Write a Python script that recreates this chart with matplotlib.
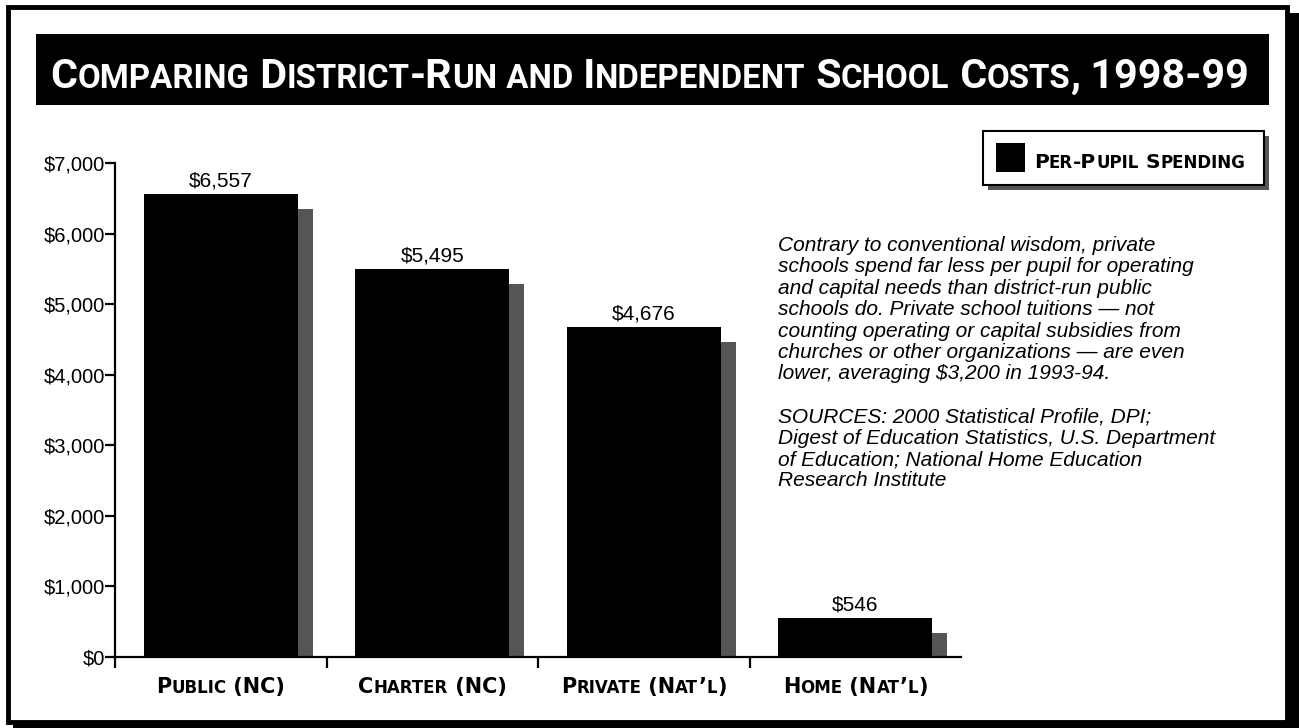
import matplotlib
matplotlib.use('Agg')
import matplotlib.pyplot as plt
import matplotlib.patheffects as pe
from matplotlib.patches import Rectangle
from matplotlib.offsetbox import TextArea, HPacker, AnnotationBbox

# data
categories = ['Public (NC)', 'Charter (NC)', 'Private (Nat’l)', 'Home (Nat’l)']
spending = [6557, 5495, 4676, 546]
y_ticks = [0, 1000, 2000, 3000, 4000, 5000, 6000, 7000]

title = 'Comparing District-Run and Independent School Costs, 1998-99'
legend_label = 'Per-Pupil Spending'
note = ('Contrary to conventional wisdom, private\n'
        'schools spend far less per pupil for operating\n'
        'and capital needs than district-run public\n'
        'schools do. Private school tuitions — not\n'
        'counting operating or capital subsidies from\n'
        'churches or other organizations — are even\n'
        'lower, averaging $3,200 in 1993-94.\n'
        '\n'
        'SOURCES: 2000 Statistical Profile, DPI;\n'
        'Digest of Education Statistics, U.S. Department\n'
        'of Education; National Home Education\n'
        'Research Institute')

W, H = 1299, 728
TITLE_FONT = ['Roboto', 'DejaVu Sans']
CAPS_FONT = ['DejaVu Sans']
BODY_FONT = ['Liberation Sans', 'DejaVu Sans']


def fx(px):
    return px / W


def fy(py):
    return 1 - py / H


def fig_rect(x0, y0, x1, y1, **kw):
    # rectangle given in picture pixels (top-left origin)
    r = Rectangle((fx(x0), fy(y1)), fx(x1) - fx(x0), fy(y0) - fy(y1),
                  transform=fig.transFigure, **kw)
    fig.add_artist(r)
    return r


def small_caps(s, big, small, family, **props):
    # fake small caps: lower case letters are drawn as smaller capitals
    runs = []
    pending = ''
    for ch in s:
        if ch == ' ':
            pending += ch
            continue
        low = ch.islower()
        if runs and runs[-1][1] == low and not pending:
            runs[-1][0] += ch
        else:
            runs.append([pending + ch, low])
        pending = ''
    kids = []
    for txt, low in runs:
        kids.append(TextArea(txt.upper() if low else txt,
                             textprops=dict(fontsize=small if low else big, family=family, **props)))
    return HPacker(children=kids, align='baseline', pad=0, sep=0)


def place(box, xy, coords, align, parent):
    ab = AnnotationBbox(box, xy, xycoords=coords, frameon=False, box_alignment=align,
                        pad=0, annotation_clip=False, zorder=6)
    parent.add_artist(ab)


fig = plt.figure(figsize=(W / 100, H / 100), dpi=100)
fig.patch.set_facecolor('white')

# outer frame with drop shadow
fig_rect(13, 13, W + 5, H + 5, facecolor='black', edgecolor='none', zorder=-10)
fig_rect(8, 7, 1287, 722, facecolor='white', edgecolor='black', linewidth=3.5, zorder=-9)

# title bar
fig_rect(36, 34, 1269, 105, facecolor='black', edgecolor='none', zorder=-8)
place(small_caps(title, 29.8, 23.8, TITLE_FONT, color='white', weight='bold'),
      (650, H - 77), 'figure pixels', (0.5, 0.5), fig)

# legend box
fig_rect(988, 136, 1269, 190, facecolor='#555555', edgecolor='none', zorder=2)
fig_rect(983, 131, 1264, 185, facecolor='white', edgecolor='black', linewidth=1.5, zorder=3)
fig_rect(996, 143, 1025, 172, facecolor='black', edgecolor='none', zorder=4)
place(small_caps(legend_label, 14.5, 12, CAPS_FONT, color='black', weight='bold'),
      (1034, H - 163), 'figure pixels', (0, 0.5), fig)

# note text
fig.text(fx(778), fy(236), note, ha='left', va='top', fontsize=15, style='italic',
         family=BODY_FONT, linespacing=1.16)

# bar chart
ax = fig.add_axes([fx(115), fy(657), fx(961) - fx(115), fy(163) - fy(657)])
ax.patch.set_visible(False)
x = list(range(len(categories)))
ax.bar(x, spending, width=0.73, color='black', zorder=3,
       path_effects=[pe.SimplePatchShadow(offset=(10.8, -10.8), shadow_rgbFace='#555555', alpha=1.0),
                     pe.Normal()])
for xi, v in zip(x, spending):
    ax.annotate(f'${v:,}', (xi, v), xytext=(0, 2.5), textcoords='offset points',
                ha='center', va='bottom', fontsize=15, family=BODY_FONT)

ax.set_xlim(-0.5, len(categories) - 0.5)
ax.set_ylim(0, 7000)
for side in ['top', 'right']:
    ax.spines[side].set_visible(False)
for side in ['left', 'bottom']:
    ax.spines[side].set_linewidth(1.6)
    ax.spines[side].set_zorder(5)

ax.set_yticks(y_ticks)
ax.set_yticklabels([f'${t:,}' for t in y_ticks], family=BODY_FONT, fontsize=14.5)
ax.tick_params(axis='y', direction='out', length=7, width=1.6, pad=0)

ax.set_xticks(x)
ax.set_xticklabels([])
ax.tick_params(axis='x', which='major', length=0)
ax.set_xticks([i - 0.5 for i in x], minor=True)
ax.tick_params(axis='x', which='minor', direction='out', length=8, width=1.6)

for xi, cat in zip(x, categories):
    place(small_caps(cat, 15, 12, CAPS_FONT, color='black', weight='bold'),
          (xi, -0.06), ax.get_xaxis_transform(), (0.5, 0.5), ax)

fig.savefig('out.png', dpi=100, facecolor='white')
